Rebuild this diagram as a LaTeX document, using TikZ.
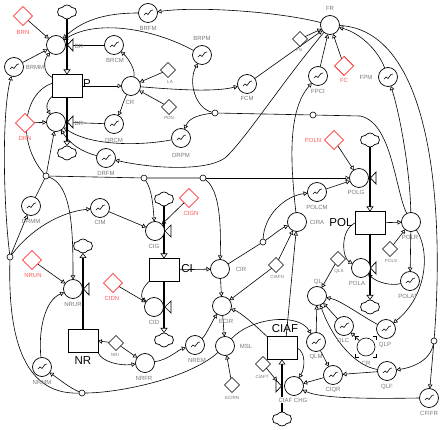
\documentclass[tikz,border=0pt]{standalone}
\usepackage{fontspec}
\setmainfont{Liberation Sans}
\usetikzlibrary{arrows.meta,shapes.geometric,shapes.symbols,calc,backgrounds}
\definecolor{lgray}{RGB}{120,120,120}
\definecolor{lred}{RGB}{255,90,90}
\tikzset{
  every node/.style={inner sep=0pt,outer sep=0pt},
  aux/.style={circle,draw,line width=0.7pt,minimum size=19pt,fill=white},
  tab/.style={aux,path picture={
     \draw[line width=0.6pt] ([shift={(-5pt,-3pt)}]path picture bounding box.center) -- ++(3pt,3pt) -- ++(2pt,-1.5pt) -- ++(3pt,4pt) -- ++(2pt,0.5pt);
     \fill ([shift={(-4.5pt,-2.5pt)}]path picture bounding box.center) circle (0.9pt);}},
  stock/.style={rectangle,draw,line width=0.8pt,minimum width=30pt,minimum height=23pt,fill=white},
  cst/.style={diamond,draw,line width=0.6pt,minimum size=15pt,fill=white},
  rcst/.style={diamond,draw=red,line width=0.7pt,minimum size=19pt,fill=white},
  sky/.style={cloud,cloud puffs=6,cloud puff arc=110,aspect=1.3,draw,line width=0.7pt,minimum width=19pt,minimum height=14pt,fill=white},
  jn/.style={circle,draw,line width=0.6pt,minimum size=6pt,fill=white},
  lab/.style={font=\fontsize{6}{6}\selectfont,text=lgray},
  slab/.style={font=\fontsize{4.5}{4.5}\selectfont,text=lgray},
  rlab/.style={font=\fontsize{6}{6}\selectfont,text=lred},
  blab/.style={font=\fontsize{11.5}{11.5}\selectfont},
  link/.style={line width=0.6pt,-{Triangle[open,length=4pt,width=4.5pt]}},
  plain/.style={line width=0.6pt},
  flowl/.style={line width=2.2pt,-{Triangle[open,length=5pt,width=7pt,line width=0.6pt]}},
  valve/.style={line width=0.7pt,fill=white},
}
\begin{document}
\begin{tikzpicture}[x=1pt,y=-1pt]
\useasboundingbox (0,0) rectangle (448,430);
% clouds
\node[sky] (c1) at (67,12) {};
\node[sky] (c2) at (67,153) {};
\node[sky] (c3) at (164,199) {};
\node[sky] (c4) at (164,340) {};
\node[sky] (c5) at (83,246) {};
\node[sky] (c6) at (370,140) {};
\node[sky] (c7) at (370,307) {};
\node[sky] (c8) at (282,419) {};
% stocks
\node[stock] (P) at (67,86) {};
\node[stock] (CI) at (164,270) {};
\node[stock] (POL) at (370,223) {};
\node[stock] (NR) at (83,341) {};
\node[stock] (CIAF) at (282,348) {};
\node[blab] (tP) at (87,84) {P};
\node[blab] (tCI) at (187,269) {CI};
\node[blab] (tPOL) at (341,223) {POL};
\node[blab] (tNR) at (83,361) {NR};
\node[blab] (tCIAF) at (285,329) {CIAF};
% rate circles
\node[aux] (BR) at (56,45) {};
\node[aux] (DR) at (56,122) {};
\node[aux] (CIG) at (155,231) {};
\node[aux] (CID) at (154,307) {};
\node[aux] (NRUR) at (73,289) {};
\node[aux] (POLG) at (359,178) {};
\node[aux] (POLA) at (361,268) {};
\node[aux] (CHG) at (294,386) {};
% auxiliaries
\node[aux] (CR) at (131,86) {};
\node[aux] (FR) at (330,25) {};
\node[aux] (CIRA) at (297,222) {};
\node[aux] (CIR) at (220,269) {};
\node[aux] (ECIR) at (222,306) {};
\node[aux] (MSL) at (225,346) {};
\node[aux] (QL) at (317,296) {};
\node[aux] (NRFR) at (145,363) {};
\node[aux] (POLR) at (411,222) {};
\node[aux,draw=none] (CRb) at (366,347) {};
\draw[line width=0.6pt] (CRb) circle (9pt);
\draw[line width=0.6pt] ($(CRb)+(-10.5,-7)$) |- ++(3.5,-3.5) ($(CRb)+(10.5,-7)$) |- ++(-3.5,-3.5)
  ($(CRb)+(-10.5,7)$) |- ++(3.5,3.5) ($(CRb)+(10.5,7)$) |- ++(-3.5,3.5);
% table functions
\node[tab] (BRFM) at (148,13) {};
\node[tab] (BRPM) at (202,55) {};
\node[tab] (BRCM) at (114,45) {};
\node[tab] (BRMM) at (14,67) {};
\node[tab] (DRCM) at (114,124) {};
\node[tab] (DRPM) at (181,138) {};
\node[tab] (DRFM) at (106,158) {};
\node[tab] (DRMM) at (31,206) {};
\node[tab] (CIM) at (100,208) {};
\node[tab] (FCM) at (247,84) {};
\node[tab] (FPCI) at (318,76) {};
\node[tab] (FPM) at (388,77) {};
\node[tab] (POLCM) at (317,192) {};
\node[tab] (POLAT) at (410,281) {};
\node[tab] (QLP) at (386,329) {};
\node[tab] (QLC) at (344,326) {};
\node[tab] (QLF) at (387,371) {};
\node[tab] (CIQR) at (333,375) {};
\node[tab] (CFIFR) at (429,398) {};
\node[tab] (QLM) at (316,342) {};
\node[tab] (NRMM) at (42,367) {};
\node[tab] (NREM) at (195,345) {};
% constants
\node[rcst] (BRN) at (23,16) {};
\node[rcst] (DRN) at (25,123) {};
\node[rcst] (FC) at (344,66) {};
\node[rcst] (POLN) at (334,140) {};
\node[rcst] (CIGN) at (189,198) {};
\node[rcst] (CIDN) at (113,283) {};
\node[rcst] (NRUN) at (32,260) {};
\node[cst] (LA) at (168,70) {};
\node[cst] (PDN) at (169,107) {};
\node[cst] (FN) at (300,39) {};
\node[cst] (POLS) at (390,249) {};
\node[cst] (QLS) at (338,259) {};
\node[cst] (CIAFN) at (276,265) {};
\node[cst] (NRI) at (116,343) {};
\node[cst] (CIAFT) at (263,364) {};
\node[cst] (ECIRN) at (232,385) {};
% junctions
\node[jn] (jA) at (46,176) {};
\node[jn] (jB) at (10,257) {};
\node[jn] (jC) at (144,178) {};
\node[jn] (jD) at (203,178) {};
\node[jn] (jE) at (215,113) {};
\node[jn] (jF) at (313,115) {};
\node[jn] (jG) at (263,242) {};
\node[jn] (jH) at (82,393) {};
\node[jn] (jI) at (434,341) {};
\coordinate (vCHG) at (277,381);
% labels
\node[lab] (tBR) at (79,46) {BR};
\node[lab] (tDR) at (79,123) {DR};
\node[lab] (tCIG) at (154,246) {CIG};
\node[lab] (tCID) at (154,322) {CID};
\node[lab] (tNRUR) at (73,304) {NRUR};
\node[lab] (tPOLG) at (356,192) {POLG};
\node[lab] (tPOLA) at (357,283) {POLA};
\node[lab,fill=white,inner sep=0.5pt] (tCHG) at (293,400) {CIAF CHG};
\node[lab] (tCR) at (130,102) {CR};
\node[lab] (tFR) at (330,8) {FR};
\node[lab] (tCIRA) at (317,222) {CIRA};
\node[lab] (tCIR) at (241,269) {CIR};
\node[lab] (tECIR) at (226,321) {ECIR};
\node[lab] (tMSL) at (246,346) {MSL};
\node[lab] (tQL) at (318,282) {QL};
\node[lab] (tNRFR) at (144,378) {NRFR};
\node[lab] (tPOLR) at (410,237) {POLR};
\node[lab] (tCRb) at (366,363) {CR};
\node[lab] (tBRFM) at (148,28) {BRFM};
\node[lab] (tBRPM) at (202,38) {BRPM};
\node[lab] (tBRCM) at (115,60) {BRCM};
\node[lab] (tBRMM) at (35,67) {BRMM};
\node[lab] (tDRCM) at (114,140) {DRCM};
\node[lab] (tDRPM) at (181,155) {DRPM};
\node[lab] (tDRFM) at (106,173) {DRFM};
\node[lab] (tDRMM) at (31,221) {DRMM};
\node[lab] (tCIM) at (100,222) {CIM};
\node[lab] (tFCM) at (247,98) {FCM};
\node[lab] (tFPCI) at (318,91) {FPCI};
\node[lab] (tFPM) at (366,77) {FPM};
\node[lab] (tPOLCM) at (317,207) {POLCM};
\node[lab] (tPOLAT) at (408,296) {POLAT};
\node[lab] (tQLP) at (385,345) {QLP};
\node[lab] (tQLC) at (343,341) {QLC};
\node[lab] (tQLF) at (387,387) {QLF};
\node[lab] (tCIQR) at (333,390) {CIQR};
\node[lab] (tCFIFR) at (429,413) {CFIFR};
\node[lab] (tQLM) at (316,357) {QLM};
\node[lab] (tNRMM) at (42,382) {NRMM};
\node[lab] (tNREM) at (197,360) {NREM};
\node[rlab] (tBRN) at (23,32) {BRN};
\node[rlab] (tDRN) at (25,138) {DRN};
\node[rlab] (tFC) at (344,80) {FC};
\node[rlab] (tPOLN) at (313,140) {POLN};
\node[rlab] (tCIGN) at (191,213) {CIGN};
\node[rlab] (tCIDN) at (112,298) {CIDN};
\node[rlab] (tNRUN) at (33,275) {NRUN};
\node[slab] (tLA) at (170,82) {LA};
\node[slab] (tPDN) at (169,118) {PDN};
\node[slab] (tFN) at (299,50) {FN};
\node[slab] (tPOLS) at (391,261) {POLS};
\node[slab] (tQLS) at (339,271) {QLS};
\node[slab] (tCIAFN) at (277,277) {CIAFN};
\node[slab] (tNRI) at (115,355) {NRI};
\node[slab] (tCIAFT) at (262,377) {CIAFT};
\node[slab] (tECIRN) at (232,398) {ECIRN};
% valves
\draw[valve] (67.5,45) -- (73,39) -- (73,51) -- cycle;
\draw[valve] (67.5,122) -- (73,116) -- (73,128) -- cycle;
\draw[valve] (165,231) -- (171,225) -- (171,237) -- cycle;
\draw[valve] (165,307) -- (171,301) -- (171,313) -- cycle;
\draw[valve] (83.5,289) -- (89,283) -- (89,295) -- cycle;
\draw[valve] (370.5,178) -- (376,172) -- (376,184) -- cycle;
\draw[valve] (370.5,268) -- (376,262) -- (376,274) -- cycle;
\draw[valve] (281.5,386) -- (276,380) -- (276,392) -- cycle;
\begin{pgfonlayer}{background}
% flows
\draw[flowl] (c1) -- (P);
\draw[flowl] (P) -- (c2);
\draw[flowl] (c3) -- (CI);
\draw[flowl] (CI) -- (c4);
\draw[flowl] (NR) -- (c5);
\draw[flowl] (c6) -- (POL);
\draw[flowl] (POL) -- (c7);
\draw[flowl] (c8) -- (CIAF);
% population sector
\draw[link] (BRN) -- (BR);
\draw[link] (BRMM) -- (BR);
\draw[link] (BRCM) -- (BR);
\draw[link] (BRFM) .. controls (110,13) and (85,18) .. (BR);
\draw[link] (BRPM) .. controls (150,27) and (95,20) .. (BR);
\draw[link] (P.150) .. controls (42,72) and (44,60) .. (BR);
\draw[link] (P) -- (CR);
\draw[link] (LA) -- (CR);
\draw[link] (PDN) -- (CR);
\draw[link] (CR) .. controls (136,70) and (128,58) .. (BRCM);
\draw[link] (CR) .. controls (123,102) and (121,110) .. (DRCM);
\draw[link] (CR) .. controls (180,90) and (215,92) .. (FCM);
\draw[link] (DRCM) -- (DR);
\draw[link] (DRN) -- (DR);
\draw[link] (P.215) .. controls (46,102) and (46,108) .. (DR);
\draw[plain] (DRMM) -- (jA);
\draw[link] (jA) -- (DR);
\draw[link] (DRFM) .. controls (82,152) and (70,144) .. (DR);
\draw[link] (DRPM) .. controls (140,146) and (90,146) .. (DR);
\draw[plain] (P.170) .. controls (25,92) and (15,140) .. (jA);
\draw[plain] (jA) -- (jC) -- (jD);
\draw[link] (jD) -- (POLG);
\draw[link] (jA) .. controls (72,185) and (73,230) .. (NRUR);
\draw[link] (jC) .. controls (152,190) and (153,205) .. (CIG);
\draw[link] (jD) .. controls (220,190) and (221,225) .. (CIR);
\draw[plain] (MSL) .. controls (190,378) and (120,393) .. (jH);
\draw[link] (jH) .. controls (70,388) and (60,380) .. (NRMM);
\draw[plain] (jH) .. controls (20,395) and (8,330) .. (jB);
\draw[link] (jB) .. controls (3,200) and (2,110) .. (BRMM);
\draw[link] (jB) .. controls (30,230) and (60,212) .. (CIM);
\draw[link] (jB) -- (DRMM);
\draw[link] (NRUN) -- (NRUR);
\draw[link] (NRMM) .. controls (38,330) and (45,300) .. (NRUR);
\draw[link] (NR.south east) .. controls (102,362) and (120,366) .. (NRFR);
\draw[link] (NRI) -- (NR.east);
\draw[link] (NRI) -- (NRFR);
\draw[link] (NRFR) .. controls (168,360) and (178,350) .. (NREM);
\draw[link] (NREM) .. controls (206,335) and (212,322) .. (ECIR);
% capital sector
\draw[link] (CI) -- (CIR);
\draw[link] (CI.south west) .. controls (140,290) and (141,298) .. (CID);
\draw[link] (CIDN) -- (CID);
\draw[link] (CIGN) -- (CIG);
\draw[link] (CIM) -- (CIG);
\draw[link] (CIR) -- (ECIR);
\draw[plain] (CIR) -- (jG);
\draw[link] (jG) .. controls (272,236) and (280,229) .. (CIRA);
\draw[link] (jG) .. controls (264,215) and (285,196) .. (POLCM);
\draw[link] (POLCM) -- (POLG);
\draw[link] (POLN) -- (POLG);
\draw[link] (CIAF.70) -- (CIRA);
\draw[link] (CIAFN) -- (CIRA);
\draw[link] (CIAFN) -- (ECIR);
\draw[link] (CIAF.north west) .. controls (255,325) and (240,312) .. (ECIR);
\draw[link] (ECIR) -- (MSL);
\draw[link] (ECIRN) -- (MSL);
\draw[link] (MSL) .. controls (250,318) and (298,312) .. (QLM);
% quality of life
\draw[link] (QLM) -- (QL);
\draw[link] (QLM) -- (CIQR);
\draw[link] (QLF) -- (CIQR);
\draw[link] (CIQR) -- (CHG);
\draw[link] (CFIFR.west) .. controls (360,399) and (320,398) .. (CHG);
\draw[link] (CIAF.east) .. controls (306,352) and (305,368) .. (CHG);
\draw[link] (CIAFT) -- (vCHG);
\draw[link] (QLC) -- (QL);
\draw[link] (QLP) .. controls (360,315) and (340,300) .. (QL);
\draw[link] (QLF) .. controls (355,366) and (333,340) .. (QL);
\draw[link] (QLS) -- (QL);
\draw[link] (CRb) -- (QLC);
% food
\draw[plain] (FR) .. controls (430,30) and (445,200) .. (jI);
\draw[link] (jI) .. controls (430,362) and (410,368) .. (QLF);
\draw[link] (jI) -- (CFIFR);
\draw[link] (FPM) .. controls (378,50) and (360,33) .. (FR);
\draw[link] (FC) -- (FR);
\draw[link] (FN) -- (FR);
\draw[link] (FPCI) -- (FR);
\draw[link] (FCM) -- (FR);
\draw[link] (FR) .. controls (280,12) and (200,6) .. (BRFM);
\draw[link] (FR) .. controls (280,85) and (245,140) .. (225,158) .. controls (205,172) and (150,168) .. (DRFM);
\draw[link] (CIRA) .. controls (290,160) and (288,110) .. (FPCI);
% pollution
\draw[link] (POLR) .. controls (410,170) and (400,115) .. (FPM);
\draw[plain] (POLR) .. controls (395,190) and (392,122) .. (360,116) -- (jF);
\draw[plain] (jF) -- (jE);
\draw[link] (jE) .. controls (195,108) and (188,82) .. (BRPM);
\draw[link] (jE) .. controls (195,115) and (188,120) .. (DRPM);
\draw[link] (POL) -- (POLR);
\draw[link] (POLS) -- (POLR);
\draw[link] (POLR) -- (POLAT);
\draw[link] (POLAT) .. controls (392,286) and (378,283) .. (POLA);
\draw[link] (POL.west) .. controls (340,230) and (342,258) .. (POLA);
\draw[link] (POLR) .. controls (430,250) and (428,295) .. (QLP);
\end{pgfonlayer}
\end{tikzpicture}
\end{document}
